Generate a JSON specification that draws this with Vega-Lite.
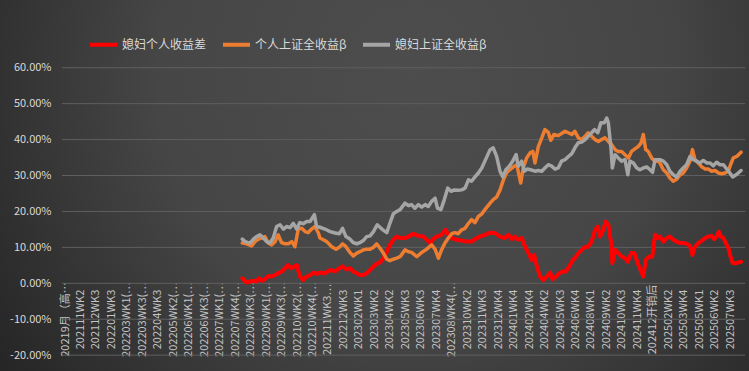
{
  "$schema": "https://vega.github.io/schema/vega-lite/v6.json",
  "width": 749,
  "height": 371,
  "autosize": {"type": "none"},
  "padding": 0,
  "background": "#2f2f2f",
  "view": {
    "stroke": null,
    "fill": {
      "gradient": "radial",
      "x1": 0.55, "y1": 0.35, "r1": 0,
      "x2": 0.55, "y2": 0.35, "r2": 0.68,
      "stops": [
        {"offset": 0, "color": "#4d4d4d"},
        {"offset": 0.5, "color": "#464646"},
        {"offset": 1, "color": "#252525"}
      ]
    }
  },
  "config": {
    "font": "Noto Sans CJK SC",
    "axis": {"domain": false, "ticks": false, "tickSize": 0, "grid": false, "title": null, "labelOverlap": false, "labelFlush": false}
  },
  "layer": [
    {
      "data": {"values": [{"g": -20}, {"g": -10}, {"g": 0}, {"g": 10}, {"g": 20}, {"g": 30}, {"g": 40}, {"g": 50}, {"g": 60}]},
      "mark": {"type": "rule", "color": "#5f5f5f", "strokeWidth": 1},
      "encoding": {
        "y": {"field": "g", "type": "quantitative", "scale": {"domain": [-24.41, 78.85], "nice": false, "zero": false}, "axis": {
          "orient": "left", "offset": -62, "labelPadding": 11, "values": [-20, -10, 0, 10, 20, 30, 40, 50, 60], "tickCount": 20,
          "labelOverlap": false, "labelBound": false,
          "labelExpr": "(datum.value < 0 ? '-' : '') + format(abs(datum.value), '.2f') + '%'",
          "labelColor": "#d9d9d9", "labelFontSize": 11, "labelFont": "Noto Sans CJK SC"}},
        "x": {"datum": -1, "type": "quantitative", "scale": {"domain": [-21.01, 221.07], "nice": false, "zero": false}},
        "x2": {"datum": 219.8}
      }
    },
    {
      "data": {"values": [
        {"t":57.3,"v":1.4},{"t":58.7,"v":0.2},{"t":59.8,"v":0.5},{"t":60.9,"v":0.7},{"t":61.9,"v":0.5},{"t":62.7,"v":1.4},{"t":63.8,"v":0.7},{"t":64.9,"v":1.4},{"t":65.7,"v":2.0},{"t":66.8,"v":1.9},{"t":67.9,"v":2.3},{"t":68.9,"v":2.8},{"t":70.0,"v":3.3},{"t":71.1,"v":4.2},{"t":72.0,"v":5.1},{"t":73.0,"v":4.2},{"t":74.1,"v":4.7},{"t":74.9,"v":5.1},{"t":75.9,"v":1.9},{"t":77.0,"v":0.9},{"t":78.1,"v":1.9},{"t":79.2,"v":2.3},{"t":80.3,"v":3.0},{"t":81.3,"v":2.6},
        {"t":82.4,"v":3.0},{"t":84.0,"v":2.8},{"t":85.7,"v":3.7},{"t":87.3,"v":3.3},{"t":88.7,"v":4.2},{"t":89.7,"v":4.7},{"t":90.8,"v":3.9},{"t":92.1,"v":4.2},{"t":93.2,"v":3.3},{"t":94.3,"v":2.8},{"t":95.3,"v":2.3},{"t":96.4,"v":2.3},{"t":97.5,"v":2.8},{"t":98.6,"v":3.7},{"t":99.7,"v":4.7},{"t":100.7,"v":5.4},{"t":101.8,"v":5.8},{"t":102.9,"v":7.0},{"t":104.0,"v":8.8},{"t":105.0,"v":10.7},{"t":106.1,"v":12.1},{"t":107.2,"v":13.0},{"t":108.3,"v":12.6},
        {"t":109.9,"v":12.6},{"t":111.0,"v":13.0},{"t":112.6,"v":13.8},{"t":114.2,"v":13.2},{"t":115.8,"v":13.0},{"t":116.9,"v":12.1},{"t":118.0,"v":11.2},{"t":119.0,"v":12.3},{"t":120.1,"v":13.0},{"t":121.7,"v":13.5},{"t":123.0,"v":14.9},{"t":123.9,"v":13.5},{"t":125.0,"v":12.6},{"t":126.6,"v":12.1},{"t":128.2,"v":11.9},{"t":129.8,"v":11.6},{"t":131.4,"v":11.6},{"t":132.5,"v":12.3},{"t":134.1,"v":13.0},{"t":135.7,"v":13.5},
        {"t":137.4,"v":14.1},{"t":139.0,"v":14.0},{"t":140.6,"v":13.0},{"t":142.2,"v":12.6},{"t":143.3,"v":13.5},{"t":144.4,"v":12.3},{"t":145.4,"v":13.0},{"t":146.5,"v":12.1},{"t":147.6,"v":12.6},{"t":148.7,"v":10.2},{"t":149.8,"v":8.4},{"t":150.8,"v":6.5},{"t":151.6,"v":7.9},{"t":152.4,"v":5.1},{"t":153.5,"v":1.9},{"t":154.6,"v":0.9},{"t":155.7,"v":1.9},{"t":156.8,"v":3.0},{"t":157.6,"v":1.1},{"t":158.7,"v":1.9},{"t":159.8,"v":2.8},{"t":160.8,"v":3.3},{"t":161.9,"v":3.3},{"t":163.0,"v":4.7},{"t":164.1,"v":6.5},
        {"t":164.8,"v":7.0},{"t":165.9,"v":8.4},{"t":167.0,"v":9.3},{"t":168.1,"v":10.2},{"t":169.1,"v":10.2},{"t":170.2,"v":11.6},{"t":171.3,"v":14.9},{"t":172.2,"v":15.8},{"t":172.9,"v":13.0},{"t":174.0,"v":14.9},{"t":174.7,"v":17.2},{"t":175.6,"v":16.3},{"t":176.5,"v":11.2},{"t":176.9,"v":5.6},{"t":177.8,"v":9.3},{"t":178.8,"v":8.4},{"t":179.9,"v":7.4},{"t":181.0,"v":7.0},{"t":181.9,"v":6.0},{"t":183.0,"v":8.4},{"t":184.0,"v":8.4},{"t":185.1,"v":5.6},{"t":186.2,"v":3.3},{"t":186.9,"v":1.9},{"t":187.7,"v":6.5},{"t":188.7,"v":7.4},{"t":189.8,"v":7.4},{"t":190.7,"v":13.5},{"t":191.5,"v":12.6},
        {"t":192.3,"v":13.0},{"t":193.4,"v":11.6},{"t":194.5,"v":12.6},{"t":195.5,"v":13.0},{"t":196.6,"v":12.1},{"t":197.7,"v":11.6},{"t":198.8,"v":11.2},{"t":199.8,"v":11.2},{"t":200.9,"v":11.0},{"t":202.0,"v":10.4},{"t":202.8,"v":7.9},{"t":203.6,"v":10.2},{"t":204.7,"v":11.2},{"t":205.8,"v":11.9},{"t":206.9,"v":12.6},{"t":207.9,"v":13.0},{"t":209.0,"v":13.2},{"t":209.8,"v":12.3},{"t":210.6,"v":13.0},{"t":211.3,"v":14.4},{"t":212.0,"v":13.0},{"t":212.8,"v":12.6},{"t":213.6,"v":11.2},{"t":214.4,"v":9.8},{"t":215.1,"v":7.4},{"t":215.8,"v":5.6},{"t":216.9,"v":5.6},{"t":218.5,"v":6.0}
      ]},
      "mark": {"type": "line", "strokeWidth": 4, "strokeJoin": "round", "strokeCap": "round"},
      "encoding": {
        "x": {"field": "t", "type": "quantitative", "axis": {
          "orient": "bottom", "offset": -52, "labelPadding": 0, "labelAngle": 270, "labelAlign": "center", "labelBaseline": "middle",
          "labelOverlap": false, "labelBound": false, "labelFlush": false, "tickCount": 100,
          "values": [0,5,10,15,20,25,30,35,40,45,50,55,60,65,70,75,80,85,90,95,100,105,110,115,120,125,130,135,140,145,150,155,160,165,170,175,180,185,190,195,200,205,210,215],
          "labelExpr": "['20219月（高…','202111WK2','202112WK3','202201WK3','202203WK1(…','202203WK3(…','202204WK3','202205WK2(…','202206WK1(…','202206WK3(…','202207WK1(…','202207WK4(…','202208WK3(…','202209WK1(…','202209WK3(…','202210WK2(…','202210WK4(…','202211WK3…','202212WK3','202302WK1','202303WK2','202304WK2','202305WK3','202306WK3','202307WK4','202308WK4(…','202310WK2','202311WK3','202312WK4','202401WK4','202402WK4','202404WK2','202405WK3','202406WK4','202408WK1','202409WK2','202410WK3','202411WK4','202412开销后','202502WK2','202503WK4','202505WK1','202506WK2','202507WK3'][round(datum.value/5)]",
          "labelColor": "#c4c4c4", "labelFontSize": 11, "labelFont": "Noto Sans CJK SC"}},
        "y": {"field": "v", "type": "quantitative"},
        "color": {"datum": "媳妇个人收益差", "type": "nominal", "scale": {"domain": ["媳妇个人收益差", "个人上证全收益β", "媳妇上证全收益β"], "range": ["#ff0000", "#ed7d31", "#a5a5a5"]},
          "legend": {"orient": "none", "legendX": 88, "legendY": 29, "direction": "horizontal", "title": null, "symbolType": "stroke", "symbolSize": 729, "symbolStrokeWidth": 4, "labelColor": "#d9d9d9", "labelFontSize": 12, "labelFont": "Noto Sans CJK SC", "columnPadding": 8, "labelOffset": 3, "labelLimit": 300}}
      }
    },
    {
      "data": {"values": [
        {"t":57.3,"v":11.2},{"t":58.7,"v":11.0},{"t":60.3,"v":10.4},{"t":61.4,"v":11.6},{"t":62.5,"v":12.3},{"t":63.6,"v":12.6},{"t":64.6,"v":13.0},{"t":65.7,"v":11.2},{"t":66.8,"v":10.7},{"t":67.9,"v":11.6},{"t":68.9,"v":13.5},{"t":70.0,"v":11.3},{"t":71.1,"v":11.0},{"t":72.2,"v":11.0},{"t":73.3,"v":11.6},{"t":74.3,"v":10.2},{"t":75.4,"v":15.1},{"t":76.5,"v":15.3},{"t":77.6,"v":14.4},{"t":78.6,"v":14.1},{"t":79.7,"v":15.1},{"t":80.8,"v":15.8},{"t":81.9,"v":14.0},
        {"t":82.4,"v":12.6},{"t":83.5,"v":12.1},{"t":84.6,"v":11.6},{"t":86.2,"v":10.2},{"t":87.6,"v":9.5},{"t":88.9,"v":10.2},{"t":89.7,"v":11.0},{"t":90.8,"v":10.2},{"t":92.1,"v":8.6},{"t":93.2,"v":7.6},{"t":94.3,"v":8.4},{"t":95.3,"v":8.8},{"t":96.4,"v":9.3},{"t":97.5,"v":9.5},{"t":98.6,"v":9.5},{"t":99.7,"v":10.0},{"t":100.7,"v":11.0},{"t":101.8,"v":9.8},{"t":102.9,"v":8.4},{"t":104.0,"v":6.7},{"t":105.0,"v":6.3},{"t":106.1,"v":6.7},{"t":107.2,"v":7.0},{"t":108.3,"v":7.4},
        {"t":109.9,"v":9.3},{"t":111.0,"v":8.8},{"t":112.0,"v":8.6},{"t":113.7,"v":7.4},{"t":115.3,"v":8.6},{"t":116.9,"v":9.5},{"t":118.5,"v":10.7},{"t":119.6,"v":9.5},{"t":120.7,"v":7.0},{"t":121.7,"v":9.3},{"t":122.8,"v":11.2},{"t":123.9,"v":12.6},{"t":125.0,"v":13.8},{"t":126.0,"v":14.1},{"t":127.1,"v":13.8},{"t":128.2,"v":14.9},{"t":129.3,"v":15.3},{"t":130.4,"v":16.7},{"t":131.4,"v":17.7},{"t":132.5,"v":16.9},{"t":133.6,"v":18.6},{"t":134.7,"v":19.3},{"t":135.7,"v":20.5},
        {"t":137.4,"v":22.3},{"t":138.4,"v":23.3},{"t":139.5,"v":24.0},{"t":140.6,"v":26.0},{"t":141.7,"v":28.8},{"t":142.8,"v":30.9},{"t":143.8,"v":31.6},{"t":144.9,"v":32.4},{"t":146.0,"v":33.0},{"t":147.3,"v":27.9},{"t":148.1,"v":32.1},{"t":149.2,"v":34.9},{"t":150.3,"v":36.3},{"t":151.2,"v":36.7},{"t":151.9,"v":33.5},{"t":153.0,"v":38.1},{"t":154.1,"v":40.5},{"t":155.1,"v":42.8},{"t":156.2,"v":42.0},{"t":157.0,"v":39.8},{"t":158.0,"v":41.4},{"t":159.4,"v":41.1},{"t":160.5,"v":41.7},{"t":161.6,"v":42.3},{"t":162.7,"v":41.9},{"t":163.8,"v":41.4},
        {"t":164.8,"v":42.3},{"t":165.9,"v":40.5},{"t":167.0,"v":40.0},{"t":168.1,"v":40.9},{"t":169.1,"v":41.9},{"t":170.2,"v":40.9},{"t":171.3,"v":40.0},{"t":172.4,"v":39.5},{"t":173.4,"v":40.0},{"t":174.5,"v":40.5},{"t":175.6,"v":39.5},{"t":176.7,"v":38.6},{"t":177.8,"v":37.2},{"t":178.8,"v":36.7},{"t":179.9,"v":36.7},{"t":181.0,"v":35.8},{"t":182.1,"v":34.9},{"t":183.1,"v":36.7},{"t":184.2,"v":37.4},{"t":185.3,"v":38.1},{"t":186.2,"v":39.1},{"t":186.9,"v":41.4},{"t":187.7,"v":37.2},{"t":188.5,"v":36.7},{"t":189.6,"v":34.9},{"t":190.7,"v":34.0},{"t":191.8,"v":34.0},
        {"t":192.3,"v":33.5},{"t":193.4,"v":31.6},{"t":194.5,"v":30.7},{"t":195.5,"v":29.3},{"t":196.6,"v":28.4},{"t":197.7,"v":29.0},{"t":198.8,"v":30.2},{"t":199.8,"v":30.7},{"t":200.9,"v":32.1},{"t":202.0,"v":34.0},{"t":202.8,"v":37.2},{"t":203.6,"v":34.4},{"t":204.7,"v":33.5},{"t":205.8,"v":32.4},{"t":206.9,"v":31.8},{"t":207.9,"v":31.8},{"t":209.0,"v":31.2},{"t":210.1,"v":31.4},{"t":211.2,"v":30.7},{"t":212.2,"v":30.5},{"t":213.3,"v":30.7},{"t":214.4,"v":31.2},{"t":215.1,"v":33.0},{"t":216.0,"v":34.9},{"t":217.1,"v":35.3},{"t":218.5,"v":36.5}
      ]},
      "mark": {"type": "line", "strokeWidth": 3.5, "strokeJoin": "round", "strokeCap": "round"},
      "encoding": {
        "x": {"field": "t", "type": "quantitative"},
        "y": {"field": "v", "type": "quantitative"},
        "color": {"datum": "个人上证全收益β", "type": "nominal"}
      }
    },
    {
      "data": {"values": [
        {"t":57.3,"v":12.3},{"t":58.2,"v":11.6},{"t":59.8,"v":11.2},{"t":60.9,"v":12.3},{"t":61.9,"v":13.0},{"t":63.0,"v":13.5},{"t":64.1,"v":12.6},{"t":65.2,"v":11.6},{"t":66.2,"v":11.2},{"t":67.3,"v":12.6},{"t":68.4,"v":15.8},{"t":69.5,"v":16.3},{"t":70.6,"v":15.1},{"t":71.6,"v":15.8},{"t":72.7,"v":15.5},{"t":73.8,"v":16.7},{"t":74.9,"v":15.1},{"t":75.9,"v":16.9},{"t":77.0,"v":16.6},{"t":78.1,"v":17.2},{"t":79.2,"v":17.2},{"t":80.6,"v":19.1},{"t":81.3,"v":15.8},
        {"t":82.4,"v":15.6},{"t":84.0,"v":15.1},{"t":85.7,"v":14.4},{"t":87.3,"v":14.0},{"t":88.7,"v":13.8},{"t":89.7,"v":15.3},{"t":90.8,"v":13.0},{"t":92.1,"v":12.3},{"t":93.2,"v":11.3},{"t":94.3,"v":11.0},{"t":95.3,"v":11.3},{"t":96.4,"v":11.9},{"t":97.5,"v":13.0},{"t":98.6,"v":13.2},{"t":99.7,"v":14.4},{"t":100.9,"v":16.3},{"t":102.4,"v":15.1},{"t":104.0,"v":14.1},{"t":105.0,"v":16.7},{"t":106.1,"v":19.3},{"t":107.2,"v":20.0},{"t":108.3,"v":20.5},
        {"t":109.9,"v":22.3},{"t":111.0,"v":21.6},{"t":112.0,"v":21.9},{"t":113.1,"v":20.9},{"t":114.2,"v":21.9},{"t":115.3,"v":21.2},{"t":116.4,"v":21.9},{"t":117.4,"v":21.4},{"t":118.5,"v":22.8},{"t":119.6,"v":23.7},{"t":120.4,"v":20.9},{"t":121.5,"v":20.5},{"t":122.6,"v":23.3},{"t":123.7,"v":26.5},{"t":124.8,"v":25.6},{"t":125.8,"v":26.0},{"t":127.1,"v":25.9},{"t":128.2,"v":26.0},{"t":129.3,"v":26.5},{"t":130.4,"v":28.8},{"t":131.4,"v":28.4},{"t":132.5,"v":29.6},{"t":133.6,"v":30.7},{"t":134.7,"v":32.1},{"t":135.7,"v":34.0},
        {"t":137.4,"v":37.2},{"t":138.4,"v":37.7},{"t":139.5,"v":35.3},{"t":140.6,"v":31.2},{"t":141.5,"v":29.6},{"t":142.5,"v":31.6},{"t":143.6,"v":32.6},{"t":144.7,"v":34.0},{"t":145.8,"v":35.8},{"t":146.5,"v":32.6},{"t":147.6,"v":34.0},{"t":148.5,"v":31.2},{"t":149.4,"v":31.8},{"t":150.5,"v":31.6},{"t":151.9,"v":31.2},{"t":153.0,"v":31.4},{"t":154.1,"v":31.2},{"t":155.1,"v":32.1},{"t":156.2,"v":33.0},{"t":157.3,"v":32.6},{"t":158.4,"v":31.8},{"t":159.4,"v":32.1},{"t":160.5,"v":34.0},{"t":161.6,"v":34.4},{"t":162.7,"v":35.3},{"t":163.8,"v":36.1},
        {"t":164.8,"v":37.7},{"t":165.9,"v":39.1},{"t":167.0,"v":39.3},{"t":168.1,"v":40.0},{"t":169.1,"v":40.9},{"t":170.2,"v":41.9},{"t":171.1,"v":42.8},{"t":172.2,"v":41.9},{"t":173.2,"v":44.7},{"t":174.3,"v":44.7},{"t":175.1,"v":46.0},{"t":175.6,"v":44.7},{"t":176.5,"v":37.2},{"t":176.9,"v":32.1},{"t":177.8,"v":35.8},{"t":178.8,"v":34.9},{"t":179.9,"v":34.0},{"t":181.0,"v":34.4},{"t":181.9,"v":30.2},{"t":182.6,"v":34.0},{"t":183.7,"v":33.5},{"t":184.8,"v":32.1},{"t":185.8,"v":31.6},{"t":186.9,"v":32.1},{"t":188.0,"v":32.4},{"t":189.1,"v":31.6},{"t":189.9,"v":30.9},{"t":190.7,"v":34.4},{"t":191.8,"v":34.4},
        {"t":192.3,"v":34.4},{"t":193.4,"v":34.0},{"t":194.5,"v":33.0},{"t":195.5,"v":31.2},{"t":196.6,"v":30.2},{"t":197.7,"v":29.6},{"t":198.8,"v":31.2},{"t":199.8,"v":32.1},{"t":200.9,"v":33.0},{"t":202.0,"v":35.3},{"t":203.1,"v":34.4},{"t":204.2,"v":34.0},{"t":205.2,"v":33.5},{"t":206.3,"v":34.2},{"t":207.4,"v":33.5},{"t":208.5,"v":33.5},{"t":209.5,"v":32.7},{"t":210.6,"v":33.7},{"t":211.7,"v":33.0},{"t":212.8,"v":33.0},{"t":213.9,"v":31.8},{"t":214.9,"v":30.7},{"t":215.8,"v":29.6},{"t":216.9,"v":30.2},{"t":217.6,"v":30.7},{"t":218.5,"v":31.4}
      ]},
      "mark": {"type": "line", "strokeWidth": 3.5, "strokeJoin": "round", "strokeCap": "round"},
      "encoding": {
        "x": {"field": "t", "type": "quantitative"},
        "y": {"field": "v", "type": "quantitative"},
        "color": {"datum": "媳妇上证全收益β", "type": "nominal"}
      }
    }
  ]
}
